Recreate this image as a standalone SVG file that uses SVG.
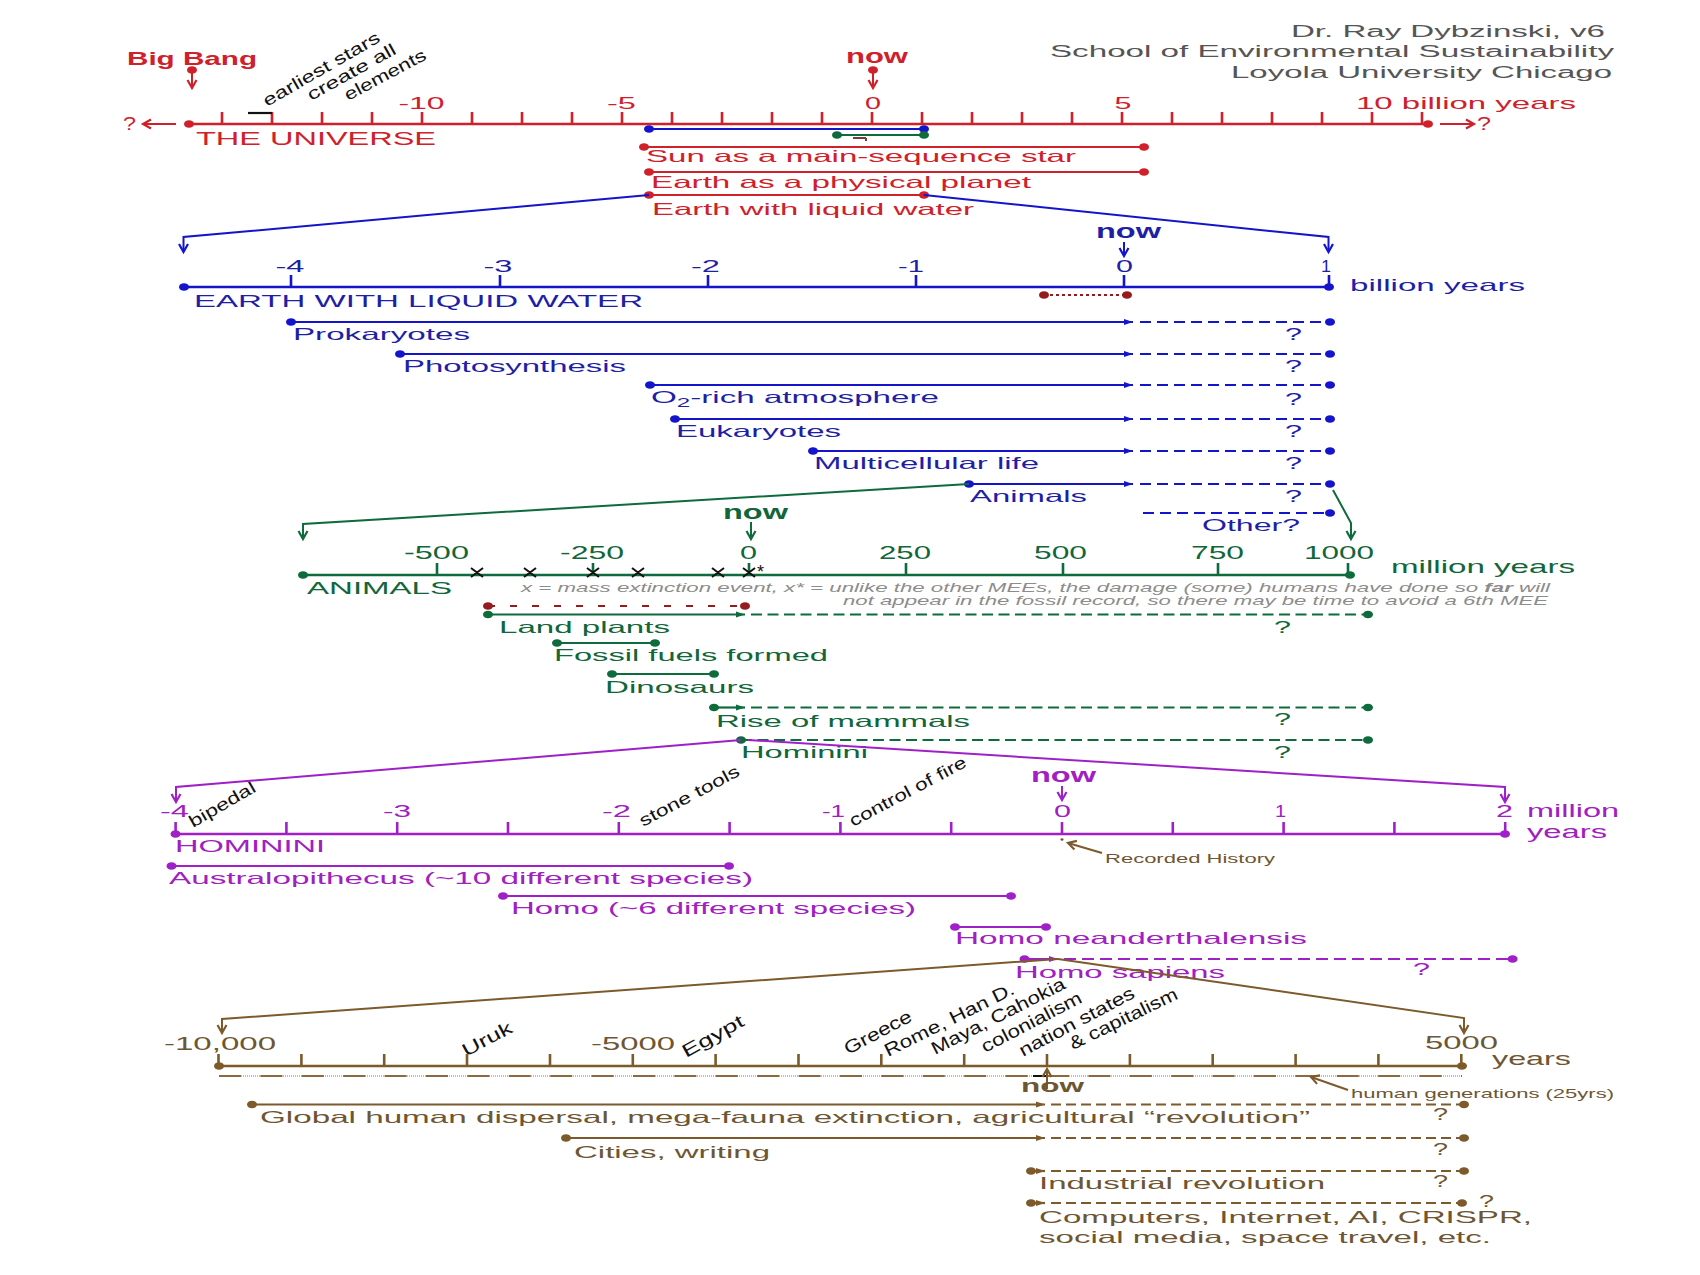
<svg xmlns="http://www.w3.org/2000/svg" width="1700" height="1275" viewBox="0 0 1700 1275">
<style>
text{font-family:"Liberation Sans",Arial,sans-serif;}
.ax{fill:none;stroke-width:2.6}
.br{fill:none;stroke-width:2.2}
.zl{fill:none;stroke-width:2}
.R{stroke:#d0202a}.B{stroke:#1414cc}.G{stroke:#0e6b3c}.P{stroke:#a020c8}.N{stroke:#7d5a2b}.D{stroke:#961c1c}.K{stroke:#111}
.tR{fill:#d0202a}.tB{fill:#1f1fa6}.tG{fill:#11663a}.tP{fill:#a020c0}.tN{fill:#6e5632}.tK{fill:#111}.tY{fill:#555}
.dB{stroke-dasharray:11 6}.dG{stroke-dasharray:11 5.5}.dP{stroke-dasharray:12 6}.dN{stroke-dasharray:10 5}
.s17{font-size:17px}.s16{font-size:16.5px}.s19{font-size:18.5px}.now{font-size:20px;font-weight:bold}
.rot{font-size:17px;fill:#111}
</style>
<defs>
<marker id="dR" markerUnits="userSpaceOnUse" markerWidth="12" markerHeight="10" refX="6" refY="5" overflow="visible"><ellipse cx="6" cy="5" rx="5" ry="3.8" fill="#d0202a"/></marker>
<marker id="dB" markerUnits="userSpaceOnUse" markerWidth="12" markerHeight="10" refX="6" refY="5" overflow="visible"><ellipse cx="6" cy="5" rx="5" ry="3.8" fill="#1414cc"/></marker>
<marker id="dG" markerUnits="userSpaceOnUse" markerWidth="12" markerHeight="10" refX="6" refY="5" overflow="visible"><ellipse cx="6" cy="5" rx="5" ry="3.8" fill="#0e6b3c"/></marker>
<marker id="dP" markerUnits="userSpaceOnUse" markerWidth="12" markerHeight="10" refX="6" refY="5" overflow="visible"><ellipse cx="6" cy="5" rx="5" ry="3.8" fill="#a020c8"/></marker>
<marker id="dN" markerUnits="userSpaceOnUse" markerWidth="12" markerHeight="10" refX="6" refY="5" overflow="visible"><ellipse cx="6" cy="5" rx="5" ry="3.8" fill="#7d5a2b"/></marker>
<marker id="dD" markerUnits="userSpaceOnUse" markerWidth="12" markerHeight="10" refX="6" refY="5" overflow="visible"><ellipse cx="6" cy="5" rx="5" ry="3.8" fill="#961c1c"/></marker>
<marker id="aR" markerUnits="userSpaceOnUse" markerWidth="12" markerHeight="12" refX="10" refY="6" orient="auto" overflow="visible"><path d="M2,1.5 L10,6 L2,10.5" fill="none" stroke="#d0202a" stroke-width="2.2"/></marker>
<marker id="aB" markerUnits="userSpaceOnUse" markerWidth="12" markerHeight="12" refX="10" refY="6" orient="auto" overflow="visible"><path d="M2,1.5 L10,6 L2,10.5" fill="none" stroke="#1414cc" stroke-width="2.2"/></marker>
<marker id="aG" markerUnits="userSpaceOnUse" markerWidth="12" markerHeight="12" refX="10" refY="6" orient="auto" overflow="visible"><path d="M2,1.5 L10,6 L2,10.5" fill="none" stroke="#0e6b3c" stroke-width="2.2"/></marker>
<marker id="aP" markerUnits="userSpaceOnUse" markerWidth="12" markerHeight="12" refX="10" refY="6" orient="auto" overflow="visible"><path d="M2,1.5 L10,6 L2,10.5" fill="none" stroke="#a020c8" stroke-width="2.2"/></marker>
<marker id="aN" markerUnits="userSpaceOnUse" markerWidth="12" markerHeight="12" refX="10" refY="6" orient="auto" overflow="visible"><path d="M2,1.5 L10,6 L2,10.5" fill="none" stroke="#7d5a2b" stroke-width="2.2"/></marker>
<marker id="sB" markerUnits="userSpaceOnUse" markerWidth="10" markerHeight="8" refX="9" refY="4" orient="auto" overflow="visible"><path d="M0,1 L9,4 L0,7 Z" fill="#1414cc"/></marker>
<marker id="sG" markerUnits="userSpaceOnUse" markerWidth="10" markerHeight="8" refX="9" refY="4" orient="auto" overflow="visible"><path d="M0,1 L9,4 L0,7 Z" fill="#0e6b3c"/></marker>
<marker id="sP" markerUnits="userSpaceOnUse" markerWidth="10" markerHeight="8" refX="9" refY="4" orient="auto" overflow="visible"><path d="M0,1 L9,4 L0,7 Z" fill="#a020c8"/></marker>
<marker id="sN" markerUnits="userSpaceOnUse" markerWidth="10" markerHeight="8" refX="9" refY="4" orient="auto" overflow="visible"><path d="M0,1 L9,4 L0,7 Z" fill="#7d5a2b"/></marker>
</defs>
<rect width="1700" height="1275" fill="#fff"/>

<g id="credits" class="tY" font-size="16px">
<text x="1291" y="37" textLength="314" lengthAdjust="spacingAndGlyphs">Dr. Ray Dybzinski, v6</text>
<text x="1050" y="57" textLength="564" lengthAdjust="spacingAndGlyphs">School of Environmental Sustainability</text>
<text x="1231" y="78" textLength="381" lengthAdjust="spacingAndGlyphs">Loyola University Chicago</text>
</g>

<!-- ================= UNIVERSE ================= -->
<g id="universe-axis">
<path class="ax R" d="M189,124 H1428" marker-start="url(#dR)" marker-end="url(#dR)"/>
<path class="R" stroke-width="2.6" d="M222,112V124M272,112V124M322,112V124M372,112V124M422,112V124M472,112V124M522,112V124M572,112V124M622,112V124M672,112V124M722,112V124M772,112V124M822,112V124M872,112V124M922,112V124M972,112V124M1022,112V124M1072,112V124M1122,112V124M1172,112V124M1222,112V124M1272,112V124M1322,112V124M1372,112V124M1422,112V124"/>
<path class="zl R" d="M176,124 H143" marker-end="url(#aR)"/>
<path class="zl R" d="M1440,124 H1474" marker-end="url(#aR)"/>
<text class="tR" x="123" y="130" font-size="18px" textLength="13" lengthAdjust="spacingAndGlyphs">?</text>
<text class="tR" x="1477" y="130" font-size="18px" textLength="14" lengthAdjust="spacingAndGlyphs">?</text>
<g class="tR s17">
<text x="398.5" y="109" textLength="46" lengthAdjust="spacingAndGlyphs">-10</text>
<text x="607" y="109" textLength="29" lengthAdjust="spacingAndGlyphs">-5</text>
<text x="865" y="109" textLength="16" lengthAdjust="spacingAndGlyphs">0</text>
<text x="1114.5" y="109" textLength="17" lengthAdjust="spacingAndGlyphs">5</text>
<text x="1356" y="109" textLength="220" lengthAdjust="spacingAndGlyphs">10 billion years</text>
</g>
<text class="tR" x="196" y="145" font-size="18.5px" textLength="240" lengthAdjust="spacingAndGlyphs">THE UNIVERSE</text>
</g>
<g id="big-bang">
<text class="tR" x="127" y="65" font-size="18.5px" font-weight="bold" textLength="130" lengthAdjust="spacingAndGlyphs">Big Bang</text>
<path class="zl R" d="M192,70 V88" marker-start="url(#dR)" marker-end="url(#aR)"/>
</g>
<g id="universe-now">
<text class="tR now" x="846" y="63" textLength="62" lengthAdjust="spacingAndGlyphs">now</text>
<path class="zl R" d="M873,70 V88" marker-start="url(#dR)" marker-end="url(#aR)"/>
</g>
<g id="earliest-stars">
<path class="K" stroke-width="2.2" d="M248,113 H272"/>
<text class="rot" transform="translate(267,107) rotate(-30)" textLength="132" lengthAdjust="spacingAndGlyphs">earliest stars</text>
<text class="rot" transform="translate(311,101) rotate(-29)" textLength="99" lengthAdjust="spacingAndGlyphs">create all</text>
<text class="rot" transform="translate(348,101) rotate(-28)" textLength="90" lengthAdjust="spacingAndGlyphs">elements</text>
</g>
<g id="universe-subbars">
<path class="br B" d="M649,129 H924" marker-start="url(#dB)" marker-end="url(#dB)"/>
<path class="br G" d="M837,135 H924" marker-start="url(#dG)" marker-end="url(#dG)"/>
<path stroke="#7a3a3a" stroke-width="2" fill="none" d="M853,138 H866 M866,138 V141"/>
</g>
<g id="sun">
<path class="br R" d="M644,147 H1144" marker-start="url(#dR)" marker-end="url(#dR)"/>
<text class="tR s16" x="646" y="162" textLength="430" lengthAdjust="spacingAndGlyphs">Sun as a main-sequence star</text>
</g>
<g id="earth-planet">
<path class="br R" d="M649,172 H1144" marker-start="url(#dR)" marker-end="url(#dR)"/>
<text class="tR s16" x="651" y="188" textLength="380" lengthAdjust="spacingAndGlyphs">Earth as a physical planet</text>
</g>
<g id="earth-water">
<path class="br R" d="M649,195 H924" marker-start="url(#dR)" marker-end="url(#dR)"/>
<text class="tR s16" x="652" y="215" textLength="322" lengthAdjust="spacingAndGlyphs">Earth with liquid water</text>
</g>

<!-- ================= EARTH WITH LIQUID WATER ================= -->
<g id="water-axis">
<path class="ax B" d="M184,287 H1329" marker-start="url(#dB)" marker-end="url(#dB)"/>
<path class="B" stroke-width="2.6" d="M291,275V287M500,275V287M708,275V287M916,275V287M1124,275V287M1329,275V287"/>
<g class="tB s17">
<text x="275.5" y="272" textLength="29" lengthAdjust="spacingAndGlyphs">-4</text>
<text x="483.5" y="272" textLength="29" lengthAdjust="spacingAndGlyphs">-3</text>
<text x="691" y="272" textLength="29" lengthAdjust="spacingAndGlyphs">-2</text>
<text x="898" y="272" textLength="26" lengthAdjust="spacingAndGlyphs">-1</text>
<text x="1116" y="272" textLength="17" lengthAdjust="spacingAndGlyphs">0</text>
<text x="1321" y="272" textLength="10" lengthAdjust="spacingAndGlyphs">1</text>
<text x="1350" y="291" textLength="175" lengthAdjust="spacingAndGlyphs">billion years</text>
<text x="194" y="307" textLength="449" lengthAdjust="spacingAndGlyphs">EARTH WITH LIQUID WATER</text>
</g>
<text class="tB now" x="1096" y="238" textLength="65" lengthAdjust="spacingAndGlyphs">now</text>
<path class="zl B" d="M1124,242 V256" marker-end="url(#aB)"/>
<path class="D" stroke-width="2" stroke-dasharray="3 3" d="M1044,295 H1127" marker-start="url(#dD)" marker-end="url(#dD)"/>
</g>
<g id="prokaryotes">
<path class="br B" d="M291,322 H1133" marker-start="url(#dB)" marker-end="url(#sB)"/>
<path class="br B dB" d="M1140,322 H1330" marker-end="url(#dB)"/>
<text class="tB s16" x="293" y="340" textLength="177" lengthAdjust="spacingAndGlyphs">Prokaryotes</text>
<text class="tB s16" x="1285" y="340" textLength="17" lengthAdjust="spacingAndGlyphs">?</text>
</g>
<g id="photosynthesis">
<path class="br B" d="M400,354 H1133" marker-start="url(#dB)" marker-end="url(#sB)"/>
<path class="br B dB" d="M1140,354 H1330" marker-end="url(#dB)"/>
<text class="tB s16" x="403" y="372" textLength="223" lengthAdjust="spacingAndGlyphs">Photosynthesis</text>
<text class="tB s16" x="1285" y="372" textLength="17" lengthAdjust="spacingAndGlyphs">?</text>
</g>
<g id="o2-atmosphere">
<path class="br B" d="M650,385 H1133" marker-start="url(#dB)" marker-end="url(#sB)"/>
<path class="br B dB" d="M1140,385 H1330" marker-end="url(#dB)"/>
<text class="tB s16" x="651" y="403" textLength="288" lengthAdjust="spacingAndGlyphs">O<tspan font-size="12px" dy="4">2</tspan><tspan dy="-4">-rich atmosphere</tspan></text>
<text class="tB s16" x="1285" y="405" textLength="17" lengthAdjust="spacingAndGlyphs">?</text>
</g>
<g id="eukaryotes">
<path class="br B" d="M675,419 H1133" marker-start="url(#dB)" marker-end="url(#sB)"/>
<path class="br B dB" d="M1140,419 H1330" marker-end="url(#dB)"/>
<text class="tB s16" x="676" y="437" textLength="165" lengthAdjust="spacingAndGlyphs">Eukaryotes</text>
<text class="tB s16" x="1285" y="437" textLength="17" lengthAdjust="spacingAndGlyphs">?</text>
</g>
<g id="multicellular">
<path class="br B" d="M813,451 H1133" marker-start="url(#dB)" marker-end="url(#sB)"/>
<path class="br B dB" d="M1140,451 H1330" marker-end="url(#dB)"/>
<text class="tB s16" x="814" y="469" textLength="225" lengthAdjust="spacingAndGlyphs">Multicellular life</text>
<text class="tB s16" x="1285" y="469" textLength="17" lengthAdjust="spacingAndGlyphs">?</text>
</g>
<g id="animals-bar">
<path class="br B" d="M969,484 H1133" marker-start="url(#dB)" marker-end="url(#sB)"/>
<path class="br B dB" d="M1140,484 H1330" marker-end="url(#dB)"/>
<text class="tB s16" x="970" y="502" textLength="117" lengthAdjust="spacingAndGlyphs">Animals</text>
<text class="tB s16" x="1285" y="502" textLength="17" lengthAdjust="spacingAndGlyphs">?</text>
</g>
<g id="other">
<path class="br B dB" d="M1143,513 H1330" marker-end="url(#dB)"/>
<text class="tB s16" x="1202" y="531" textLength="98" lengthAdjust="spacingAndGlyphs">Other?</text>
</g>

<!-- ================= ANIMALS ================= -->
<g id="animals-axis">
<path class="ax G" d="M303,575 H1350" marker-start="url(#dG)" marker-end="url(#dG)"/>
<path class="G" stroke-width="2.6" d="M437,563V575M593,563V575M749,563V575M906,563V575M1063,563V575M1218,563V575M1348,563V575"/>
<g class="tG" font-size="18px">
<text x="404" y="559" textLength="65" lengthAdjust="spacingAndGlyphs">-500</text>
<text x="560" y="559" textLength="64" lengthAdjust="spacingAndGlyphs">-250</text>
<text x="740" y="559" textLength="17" lengthAdjust="spacingAndGlyphs">0</text>
<text x="879" y="559" textLength="52" lengthAdjust="spacingAndGlyphs">250</text>
<text x="1034" y="559" textLength="53" lengthAdjust="spacingAndGlyphs">500</text>
<text x="1191" y="559" textLength="53" lengthAdjust="spacingAndGlyphs">750</text>
<text x="1304" y="559" textLength="70" lengthAdjust="spacingAndGlyphs">1000</text>
<text x="1391" y="573" font-size="18.5px" textLength="184" lengthAdjust="spacingAndGlyphs">million years</text>
</g>
<text class="tG s17" x="307" y="594" textLength="145" lengthAdjust="spacingAndGlyphs">ANIMALS</text>
<text class="tG now" x="723" y="519" textLength="65" lengthAdjust="spacingAndGlyphs">now</text>
<path class="zl G" d="M751,522 V539" marker-end="url(#aG)"/>
<path class="K" stroke-width="2" fill="none" d="M471,568L483,577M483,568L471,577M524,568L536,577M536,568L524,577M587,568L599,577M599,568L587,577M632,568L644,577M644,568L632,577M712,568L724,577M724,568L712,577M743,568L755,577M755,568L743,577"/>
<text class="tK" x="757" y="578" font-size="18px">*</text>
<g fill="#8c8c8c" font-size="13px" font-style="italic">
<text x="521" y="592" textLength="1029" lengthAdjust="spacingAndGlyphs">x = mass extinction event, x* = unlike the other MEEs, the damage (some) humans have done so <tspan font-weight="bold">far</tspan> will</text>
<text x="843" y="605" textLength="705" lengthAdjust="spacingAndGlyphs">not appear in the fossil record, so there may be time to avoid a 6th MEE</text>
</g>
</g>
<g id="land-plants">
<path class="D" stroke-width="2" stroke-dasharray="7 15" d="M488,606 H745" marker-start="url(#dD)" marker-end="url(#dD)"/>
<path class="br G" d="M488,614.5 H745" marker-start="url(#dG)" marker-end="url(#sG)"/>
<path class="br G dG" d="M751,614.5 H1368" marker-end="url(#dG)"/>
<text class="tG s16" x="499" y="633" textLength="171" lengthAdjust="spacingAndGlyphs">Land plants</text>
<text class="tG s16" x="1274" y="633" textLength="17" lengthAdjust="spacingAndGlyphs">?</text>
</g>
<g id="fossil-fuels">
<path class="br G" d="M557,643 H655" marker-start="url(#dG)" marker-end="url(#dG)"/>
<text class="tG s16" x="554" y="661" textLength="274" lengthAdjust="spacingAndGlyphs">Fossil fuels formed</text>
</g>
<g id="dinosaurs">
<path class="br G" d="M612,674 H714" marker-start="url(#dG)" marker-end="url(#dG)"/>
<text class="tG s16" x="605" y="693" textLength="149" lengthAdjust="spacingAndGlyphs">Dinosaurs</text>
</g>
<g id="mammals">
<path class="br G" d="M714,707.5 H745" marker-start="url(#dG)" marker-end="url(#sG)"/>
<path class="br G dG" d="M751,707.5 H1368" marker-end="url(#dG)"/>
<text class="tG s16" x="716" y="727" textLength="254" lengthAdjust="spacingAndGlyphs">Rise of mammals</text>
<text class="tG s16" x="1274" y="725" textLength="17" lengthAdjust="spacingAndGlyphs">?</text>
</g>
<g id="hominini-bar">
<path class="br G dG" d="M741,740 H1368" marker-start="url(#dG)" marker-end="url(#dG)"/>
<text class="tG s16" x="741" y="758" textLength="127" lengthAdjust="spacingAndGlyphs">Hominini</text>
<text class="tG s16" x="1274" y="758" textLength="17" lengthAdjust="spacingAndGlyphs">?</text>
</g>

<!-- ================= HOMININI ================= -->
<g id="hominini-axis">
<path class="ax P" d="M175.5,834 H1505" marker-start="url(#dP)" marker-end="url(#dP)"/>
<path class="P" stroke-width="2.6" d="M175.6,822V834M286.4,822V834M397.2,822V834M508,822V834M618.8,822V834M729.6,822V834M840.4,822V834M951.2,822V834M1062,822V834M1172.8,822V834M1283.6,822V834M1394.4,822V834M1505.2,822V834"/>
<g class="tP s17">
<text x="160" y="817" textLength="29" lengthAdjust="spacingAndGlyphs">-4</text>
<text x="383" y="817" textLength="28" lengthAdjust="spacingAndGlyphs">-3</text>
<text x="602" y="817" textLength="29" lengthAdjust="spacingAndGlyphs">-2</text>
<text x="822" y="817" textLength="23" lengthAdjust="spacingAndGlyphs">-1</text>
<text x="1054" y="817" textLength="17" lengthAdjust="spacingAndGlyphs">0</text>
<text x="1275" y="817" textLength="11" lengthAdjust="spacingAndGlyphs">1</text>
<text x="1496" y="817" textLength="17" lengthAdjust="spacingAndGlyphs">2</text>
<text x="1527" y="817" font-size="18.5px" textLength="92" lengthAdjust="spacingAndGlyphs">million</text>
<text x="1527" y="838" font-size="18.5px" textLength="80" lengthAdjust="spacingAndGlyphs">years</text>
<text x="175" y="852" textLength="150" lengthAdjust="spacingAndGlyphs">HOMININI</text>
</g>
<text class="tP now" x="1031" y="782" textLength="65" lengthAdjust="spacingAndGlyphs">now</text>
<path class="zl P" d="M1062,786 V800" marker-end="url(#aP)"/>
<text class="rot" transform="translate(193,828) rotate(-30)" textLength="74" lengthAdjust="spacingAndGlyphs">bipedal</text>
<text class="rot" transform="translate(643,827) rotate(-28)" textLength="111" lengthAdjust="spacingAndGlyphs">stone tools</text>
<text class="rot" transform="translate(853,827) rotate(-28)" textLength="130" lengthAdjust="spacingAndGlyphs">control of fire</text>
<ellipse cx="1062" cy="839.5" rx="1.5" ry="1.2" fill="#6e5632"/>
<path class="N" stroke-width="2" fill="none" d="M1102,853 L1068,843" marker-end="url(#aN)"/>
<text class="tN" x="1105" y="863" font-size="13px" textLength="170" lengthAdjust="spacingAndGlyphs">Recorded History</text>
</g>
<g id="australopithecus">
<path class="br P" d="M171.5,866 H729" marker-start="url(#dP)" marker-end="url(#dP)"/>
<text class="tP s16" x="169" y="884" textLength="584" lengthAdjust="spacingAndGlyphs">Australopithecus (~10 different species)</text>
</g>
<g id="homo">
<path class="br P" d="M503,896 H1011" marker-start="url(#dP)" marker-end="url(#dP)"/>
<text class="tP s16" x="511" y="914" textLength="405" lengthAdjust="spacingAndGlyphs">Homo (~6 different species)</text>
</g>
<g id="neanderthalensis">
<path class="br P" d="M955,927 H1046" marker-start="url(#dP)" marker-end="url(#dP)"/>
<text class="tP s16" x="955" y="944" textLength="352" lengthAdjust="spacingAndGlyphs">Homo neanderthalensis</text>
</g>
<g id="sapiens">
<path class="br P" d="M1024.5,959 H1058" marker-start="url(#dP)" marker-end="url(#sP)"/>
<path class="br P dP" d="M1064,959 H1512.6" marker-end="url(#dP)"/>
<text class="tP s16" x="1015" y="978" textLength="210" lengthAdjust="spacingAndGlyphs">Homo sapiens</text>
<text class="tP s16" x="1413" y="975" textLength="17" lengthAdjust="spacingAndGlyphs">?</text>
</g>

<!-- ================= HUMAN ================= -->
<g id="human-axis">
<path class="ax N" d="M219,1066 H1462" marker-start="url(#dN)" marker-end="url(#dN)"/>
<path class="N" stroke-width="2.6" d="M218.5,1054V1066M301.4,1054V1066M384.2,1054V1066M467,1054V1066M550,1054V1066M632.8,1054V1066M715.6,1054V1066M798.5,1054V1066M881.3,1054V1066M964.2,1054V1066M1047,1054V1066M1129.9,1054V1066M1212.7,1054V1066M1295.6,1054V1066M1378.4,1054V1066M1461.3,1054V1066"/>
<path stroke="#c9bca8" stroke-width="2" stroke-dasharray="1 1" fill="none" d="M219,1076 H1462"/>
<path stroke="#8a6a3e" stroke-width="2" stroke-dasharray="22 19.4" fill="none" d="M219,1076 H1462"/>
<path class="K" stroke-width="2" d="M1033,1076 H1047"/>
<g class="tN" font-size="18.5px">
<text x="164" y="1050" textLength="112" lengthAdjust="spacingAndGlyphs">-10,000</text>
<text x="591" y="1050" textLength="84" lengthAdjust="spacingAndGlyphs">-5000</text>
<text x="1425" y="1049" textLength="73" lengthAdjust="spacingAndGlyphs">5000</text>
<text x="1492" y="1065" textLength="79" lengthAdjust="spacingAndGlyphs">years</text>
</g>
<path class="zl N" d="M1047,1089 V1069" marker-end="url(#aN)"/>
<text class="tN" x="1021" y="1092" font-size="19px" font-weight="bold" textLength="63" lengthAdjust="spacingAndGlyphs">now</text>
<path class="N" stroke-width="2" fill="none" d="M1348,1090 L1311,1077" marker-end="url(#aN)"/>
<text class="tN" x="1351" y="1098" font-size="13px" textLength="263" lengthAdjust="spacingAndGlyphs">human generations (25yrs)</text>
<g class="rot" style="font-size:18px">
<text transform="translate(466,1057) rotate(-28)" textLength="54" lengthAdjust="spacingAndGlyphs">Uruk</text>
<text transform="translate(686,1058) rotate(-29)" textLength="68" lengthAdjust="spacingAndGlyphs">Egypt</text>
<text transform="translate(848,1055) rotate(-28)" textLength="74" lengthAdjust="spacingAndGlyphs">Greece</text>
<text transform="translate(888,1057) rotate(-26.5)" textLength="143" lengthAdjust="spacingAndGlyphs">Rome, Han D.</text>
<text transform="translate(935,1055) rotate(-27)" textLength="148" lengthAdjust="spacingAndGlyphs">Maya, Cahokia</text>
<text transform="translate(985,1053) rotate(-27.5)" textLength="111" lengthAdjust="spacingAndGlyphs">colonialism</text>
<text transform="translate(1023,1057) rotate(-28)" textLength="128" lengthAdjust="spacingAndGlyphs">nation states</text>
<text transform="translate(1073,1050) rotate(-26)" textLength="118" lengthAdjust="spacingAndGlyphs">&amp; capitalism</text>
</g>
</g>
<g id="global-dispersal">
<path class="br N" d="M252,1104.5 H1045" marker-start="url(#dN)" marker-end="url(#sN)"/>
<path class="br N dN" d="M1051,1104.5 H1464" marker-end="url(#dN)"/>
<text class="tN s16" x="260" y="1123" textLength="1050" lengthAdjust="spacingAndGlyphs">Global human dispersal, mega-fauna extinction, agricultural “revolution”</text>
<text class="tN s16" x="1433" y="1120" textLength="15" lengthAdjust="spacingAndGlyphs">?</text>
</g>
<g id="cities">
<path class="br N" d="M566,1138 H1045" marker-start="url(#dN)" marker-end="url(#sN)"/>
<path class="br N dN" d="M1051,1138 H1464" marker-end="url(#dN)"/>
<text class="tN s16" x="574" y="1158" textLength="196" lengthAdjust="spacingAndGlyphs">Cities, writing</text>
<text class="tN s16" x="1433" y="1155" textLength="15" lengthAdjust="spacingAndGlyphs">?</text>
</g>
<g id="industrial">
<path class="br N" d="M1031,1171 H1045" marker-start="url(#dN)" marker-end="url(#sN)"/>
<path class="br N dN" d="M1051,1171 H1464" marker-end="url(#dN)"/>
<text class="tN s16" x="1039" y="1189" textLength="286" lengthAdjust="spacingAndGlyphs">Industrial revolution</text>
<text class="tN s16" x="1433" y="1187" textLength="15" lengthAdjust="spacingAndGlyphs">?</text>
</g>
<g id="computers">
<path class="br N" d="M1031,1203 H1045" marker-start="url(#dN)" marker-end="url(#sN)"/>
<path class="br N dN" d="M1051,1203 H1462" marker-end="url(#dN)"/>
<text class="tN s16" x="1479" y="1207" textLength="15" lengthAdjust="spacingAndGlyphs">?</text>
<text class="tN s16" x="1039" y="1223" textLength="493" lengthAdjust="spacingAndGlyphs">Computers, Internet, AI, CRISPR,</text>
<text class="tN s16" x="1039" y="1243" textLength="452" lengthAdjust="spacingAndGlyphs">social media, space travel, etc.</text>
</g>

<!-- ================= ZOOM CONNECTORS ================= -->
<g id="connectors">
<path class="zl B" d="M649,195 L183.5,237 V252" marker-end="url(#aB)"/>
<path class="zl B" d="M924,195 L1328.5,237 V252" marker-end="url(#aB)"/>
<path class="zl G" d="M969,484 L303,524 V539" marker-end="url(#aG)"/>
<path class="zl G" d="M1333,490 L1351,523 V539" marker-end="url(#aG)"/>
<path class="zl P" d="M741,740 L176,787 V802" marker-end="url(#aP)"/>
<path class="zl P" d="M748,740 L1505,787 V802" marker-end="url(#aP)"/>
<path class="zl N" d="M1058,959 L222,1019 V1033" marker-end="url(#aN)"/>
<path class="zl N" d="M1058,959 L1464,1018 V1033" marker-end="url(#aN)"/>
</g>
</svg>
